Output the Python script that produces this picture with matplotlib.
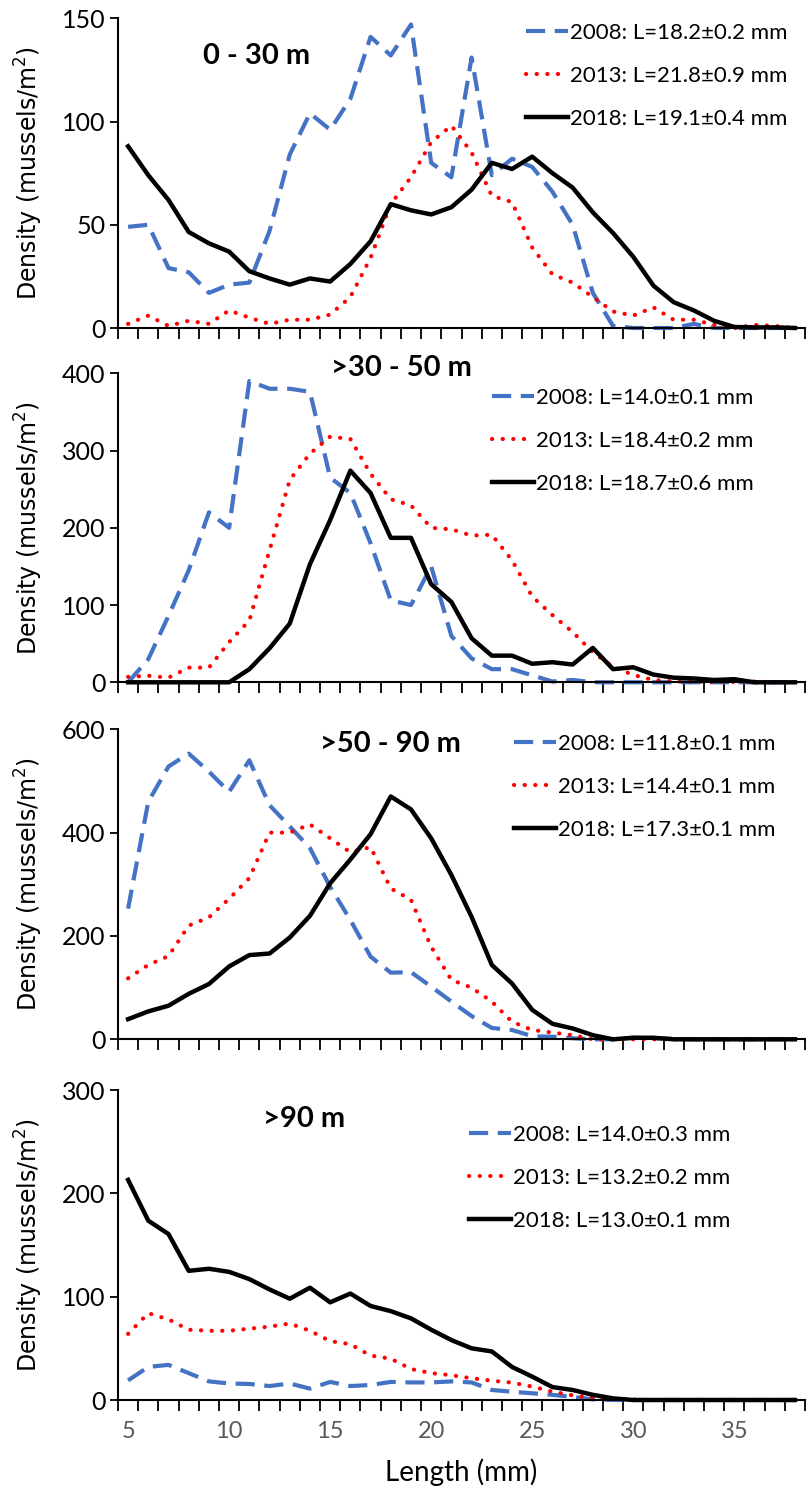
import matplotlib
matplotlib.use('Agg')
from matplotlib import pyplot as plt, ticker as mticker

# shell length classes (mm)
lengths = list(range(5, 39))

# 0 - 30 m
dens08_a = [49, 50, 29, 27, 17, 21, 22, 47, 84, 104, 96, 111, 141, 132, 147, 80, 73, 131,
            74, 82, 78, 66, 50, 17, 1, 0, 0, 0, 2, 0, 0, 0, 0, 0]
dens13_a = [2, 6, 1, 3.5, 2, 8.5, 5, 2, 4, 4, 6.5, 15, 34, 60, 73, 90, 98, 85,
            64, 61, 39, 26, 22, 15, 8, 6, 10, 4, 4, 1.5, 0, 1.5, 1, 0]
dens18_a = [88, 74, 62, 46.5, 41, 37, 27.5, 24, 21, 24, 22.5, 31, 42, 60, 57, 55, 58.5, 67,
            80, 77, 83, 75, 68, 56, 46, 34.5, 20.5, 12.5, 8.5, 3.5, 0.5, 0.3, 0.3, 0]

# >30 - 50 m
dens08_b = [0, 30, 86, 145, 220, 200, 390, 380, 380, 376, 265, 245, 180, 106, 100, 150, 60, 31,
            17, 17, 9, 1, 3, 0, 0, 0, 0, 0, 0, 0, 0, 0, 0, 0]
dens13_b = [7, 8.5, 6, 19, 19, 52, 80, 171, 262, 296, 318, 315, 270, 237, 229, 200, 198, 190,
            191, 158, 111, 87, 65, 39, 20, 9.5, 3, 1, 1, 0.5, 0.5, 1, 0, 0]
dens18_b = [0, 0, 0, 0, 0, 0, 17, 44, 76, 153, 210, 274, 245, 187, 187, 127, 104, 57,
            34.5, 34.5, 24, 26, 23, 44.5, 17, 19.5, 10, 6, 5, 3, 4, 0, 0, 0]

# >50 - 90 m
dens08_c = [253, 460, 528, 553, 518, 479, 540, 453, 412, 370, 295, 231, 160, 129, 130, 102, 73, 45,
            22, 18, 6, 5, 2, 0, 0, 3, 2, 1, 0, 0, 0, 0, 0, 0]
dens13_c = [118, 144, 161, 220, 236, 272, 312, 400, 400, 416, 389, 362, 372, 292, 270, 179, 115, 100,
            73, 34, 18, 13, 8, 0, 0, 0, 0, 0, 0, 0, 0, 0, 0, 0]
dens18_c = [39, 54, 65, 88, 107, 141, 163, 166, 197, 239, 302, 348, 397, 470, 445, 389, 318, 237,
            144, 108, 57, 30, 21, 8, 0, 3, 3, 0, 0, 0, 0, 0, 0, 0]

# >90 m
dens08_d = [19, 32, 34, 26, 18, 16, 15.5, 13.5, 16, 11, 17.5, 13.5, 14.5, 17.5, 17, 17, 18, 17,
            9.7, 8, 6.5, 5, 3, 0.6, 0, 0, 0, 0, 0, 0, 0, 0, 0, 0]
dens13_d = [64, 84, 78, 68, 67, 67, 69, 71, 74, 67, 57, 54, 43, 40, 30, 26, 24, 21,
            18.7, 16.8, 13, 8, 4.5, 2.3, 1, 0.5, 0, 0, 0, 0, 0, 0, 0, 0]
dens18_d = [213, 173.5, 160.6, 125, 127, 124, 117, 107, 98, 108.7, 94.5, 103, 91, 86, 79, 68, 58, 50,
            47, 32, 22.6, 12.5, 9.7, 5, 1.6, 0, 0, 0, 0, 0, 0, 0, 0, 0]

depth_titles = ['0 - 30 m', '>30 - 50 m', '>50 - 90 m', '>90 m']
ymax = [150, 400, 600, 300]
ystep = [50, 100, 200, 100]
mean_08 = ['18.2±0.2', '14.0±0.1', '11.8±0.1', '14.0±0.3']
mean_13 = ['21.8±0.9', '18.4±0.2', '14.4±0.1', '13.2±0.2']
mean_18 = ['19.1±0.4', '18.7±0.6', '17.3±0.1', '13.0±0.1']

series08 = [dens08_a, dens08_b, dens08_c, dens08_d]
series13 = [dens13_a, dens13_b, dens13_c, dens13_d]
series18 = [dens18_a, dens18_b, dens18_c, dens18_d]

W, H = 810, 1488
fig = plt.figure(figsize=(W / 100, H / 100), dpi=100)

# pixel layout of each panel: (y of zero line, y of top), legend top-left, title pos
ax_left, ax_right = 118, 805
panel_px = [(328, 18.3), (682.3, 373.3), (1039.3, 729.3), (1400, 1090)]
legend_px = [(526, 23), (492, 388), (514, 734), (469, 1125)]
title_pos = [(0.202, 0.878), (0.413, 1.017), (0.396, 0.952), (0.271, 0.907)]

tick_font = 'Lato'
blue = '#4472C4'

for i in range(4):
    y0, y1 = panel_px[i]
    ax = fig.add_axes([ax_left / W, 1 - y0 / H, (ax_right - ax_left) / W, (y0 - y1) / H])

    ax.plot(lengths, series08[i], color=blue, lw=3.0, ls=(0, (4.6, 2.3)), clip_on=False,
            label=f'2008: L={mean_08[i]} mm')
    ax.plot(lengths, series13[i], color='red', lw=3.0, ls=(0, (0.05, 2.5)),
            dash_capstyle='round', clip_on=False, label=f'2013: L={mean_13[i]} mm')
    ax.plot(lengths, series18[i], color='black', lw=3.2, clip_on=False,
            label=f'2018: L={mean_18[i]} mm')

    ax.set_xlim(4.5, 38.5)
    ax.set_ylim(0, ymax[i])
    ax.yaxis.set_major_locator(mticker.MultipleLocator(ystep[i]))
    ax.xaxis.set_major_locator(mticker.FixedLocator([5, 10, 15, 20, 25, 30, 35]))
    ax.xaxis.set_minor_locator(mticker.FixedLocator([x + 0.5 for x in range(4, 39)]))
    ax.tick_params(axis='x', which='major', length=0, pad=15, labelsize=17,
                   labelcolor='#595959')
    ax.tick_params(axis='x', which='minor', length=8, width=1.3, direction='out')
    ax.tick_params(axis='y', which='major', length=6, width=1.3, direction='out',
                   labelsize=18, pad=3)
    for lab in ax.get_xticklabels() + ax.get_yticklabels():
        lab.set_fontfamily(tick_font)
    if i < 3:
        ax.tick_params(axis='x', labelbottom=False)
    else:
        ax.set_xlabel('Length (mm)', fontsize=20, fontfamily=tick_font, labelpad=12)

    for s in ['top', 'right']:
        ax.spines[s].set_visible(False)
    for s in ['left', 'bottom']:
        ax.spines[s].set_linewidth(1.5)

    ax.set_ylabel('Density (mussels/m$^2$)', fontsize=17, fontfamily='DejaVu Sans')
    ax.yaxis.set_label_coords(-0.106, 0.5)

    ax.text(title_pos[i][0], title_pos[i][1], depth_titles[i], transform=ax.transAxes,
            ha='center', va='center', fontsize=21, fontweight='bold', fontfamily=tick_font)

    lx, ly = legend_px[i]
    ax.legend(loc='upper left', bbox_to_anchor=(lx / W, 1 - ly / H),
              bbox_transform=fig.transFigure, frameon=False, borderpad=0,
              borderaxespad=0, handlelength=1.9, handletextpad=0.1,
              labelspacing=1.03, prop={'family': tick_font, 'size': 16})

fig.savefig('out.png', dpi=100)
